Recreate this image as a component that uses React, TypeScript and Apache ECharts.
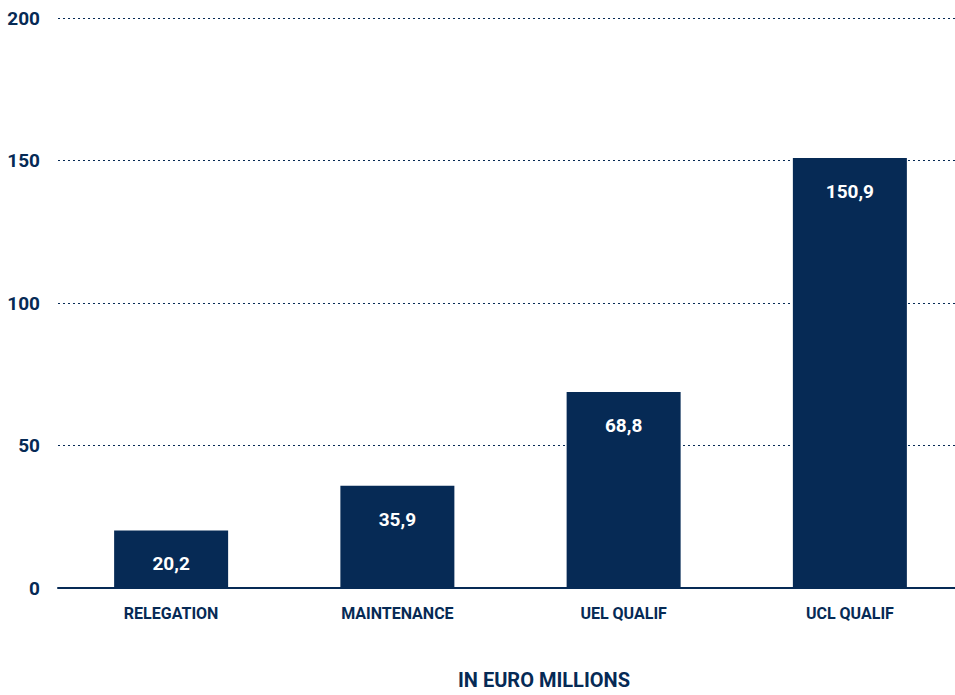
import React, { useEffect, useRef } from "react";
import * as echarts from "echarts";

const categories = ["RELEGATION", "MAINTENANCE", "UEL QUALIF", "UCL QUALIF"];
const values = [20.2, 35.9, 68.8, 150.9];
const yTicks = [0, 50, 100, 150, 200];
const axisTitle = "IN EURO MILLIONS";

const NAVY = "#062a55";
const FONT = "Roboto, 'Liberation Sans Narrow', 'DejaVu Sans Condensed', sans-serif";

export default function App() {
  const ref = useRef<HTMLDivElement>(null);
  useEffect(() => {
    if (!ref.current) return;
    const chart = echarts.init(ref.current, null, { renderer: "svg" });
    chart.setOption({
      animation: false,
      backgroundColor: "#ffffff",
      grid: { left: 58, top: 18, width: 905, height: 570, containLabel: false },
      xAxis: {
        type: "category",
        data: categories,
        axisTick: { show: false },
        axisLine: { show: true, lineStyle: { color: NAVY, width: 2 } },
        axisLabel: {
          color: NAVY,
          fontFamily: FONT,
          fontWeight: "bold",
          fontSize: 16,
          margin: 17,
        },
      },
      yAxis: {
        type: "value",
        min: yTicks[0],
        max: yTicks[yTicks.length - 1],
        interval: 50,
        axisLine: { show: false },
        axisTick: { show: false },
        axisLabel: {
          color: NAVY,
          fontFamily: FONT,
          fontWeight: "bold",
          fontSize: 19,
          margin: 18,
        },
        splitLine: {
          show: true,
          lineStyle: { color: NAVY, type: [2, 3], width: 1 },
        },
      },
      graphic: [
        {
          type: "text",
          x: 544,
          y: 680,
          style: {
            text: axisTitle,
            fill: NAVY,
            font: `bold 20px ${FONT}`,
            textAlign: "center",
            textVerticalAlign: "middle",
          },
        },
      ],
      series: [
        {
          type: "bar",
          data: values,
          barWidth: 114,
          itemStyle: { color: NAVY },
          label: {
            show: true,
            position: "insideTop",
            distance: 24,
            color: "#ffffff",
            fontFamily: FONT,
            fontWeight: "bold",
            fontSize: 19,
            formatter: (p: any) => String(p.value.toFixed(1)).replace(".", ","),
          },
        },
      ],
    });
    return () => chart.dispose();
  }, []);
  return (
    <div
      style={{
        position: "absolute",
        left: 0,
        top: 0,
        width: 955,
        height: 695,
        overflow: "hidden",
        background: "#ffffff",
      }}
    >
      <div ref={ref} style={{ width: 970, height: 695 }} />
    </div>
  );
}
